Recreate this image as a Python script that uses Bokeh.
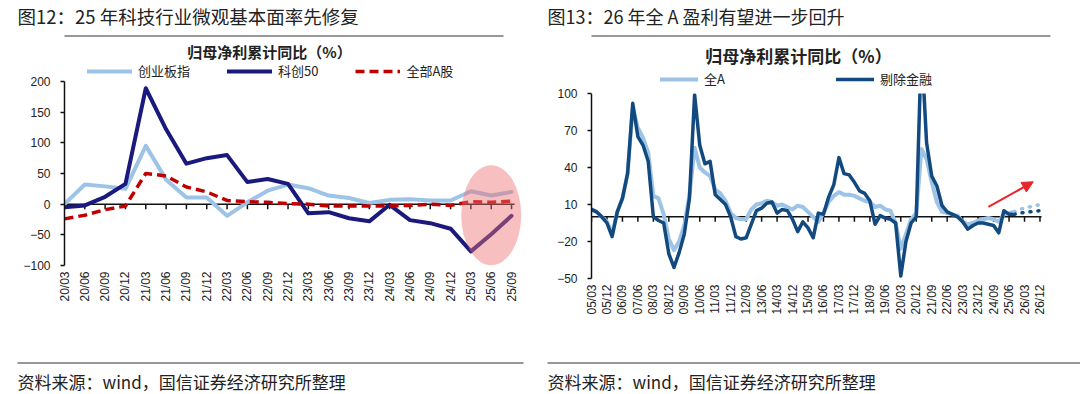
import math
from bokeh.plotting import figure
from bokeh.models import (Range1d, FixedTicker, Label, Legend, LegendItem,
                          BoxAnnotation, Arrow, NormalHead)
from bokeh.layouts import row, column
from bokeh.embed import file_html
from bokeh.resources import INLINE
from bokeh.core.validation import silence
from bokeh.core.validation.warnings import MISSING_RENDERERS

silence(MISSING_RENDERERS, True)

CJK = "Noto Sans CJK SC"
NUM = "Liberation Sans"

# ---------------- texts ----------------
LEFT_TITLE = "图12：25 年科技行业微观基本面率先修复"
RIGHT_TITLE = "图13：26 年全 A 盈利有望进一步回升"
CHART_SUBTITLE = "归母净利累计同比（%）"
SOURCE = "资料来源：wind，国信证券经济研究所整理"

# ---------------- left chart data ----------------
LEFT_QUARTERS = ["20/03", "20/06", "20/09", "20/12", "21/03", "21/06", "21/09", "21/12",
                 "22/03", "22/06", "22/09", "22/12", "23/03", "23/06", "23/09", "23/12",
                 "24/03", "24/06", "24/09", "24/12", "25/03", "25/06", "25/09"]
CYB = [0, 32, 29, 25, 95, 40, 11, 11, -19, 3, 22, 32, 26, 14, 10, 2, 7, 8, 6, 6, 21, 14, 20]
KC50 = [-5, -2, 12, 33, 189, 122, 66, 75, 80, 36, 41, 33, -15, -13, -23, -28, -1, -26, -31,
        -40, -77, -49, -19]
ALLA = [-24, -18, -9, -3, 50, 46, 28, 20, 6, 4, 3, 1, 0, -3, -3, -3, -3, -2, 0, -2, 4, 3, 5]
LEFT_NAMES = ["创业板指", "科创50", "全部A股"]
LEFT_YTICKS = [-100, -50, 0, 50, 100, 150, 200]

# highlight ellipse (data units)
HL_X, HL_Y, HL_W, HL_H = 21, -18, 2.95, 163

# ---------------- right chart data ----------------
RIGHT_TICK_LABELS = ["05/03", "05/12", "06/09", "07/06", "08/03", "08/12", "09/09", "10/06",
                     "11/03", "11/12", "12/09", "13/06", "14/03", "14/12", "15/09", "16/06",
                     "17/03", "17/12", "18/09", "19/06", "20/03", "20/12", "21/09", "22/06",
                     "23/03", "23/12", "24/09", "25/06", "26/03", "26/12"]
QA = [6, 4, 0, -4, -14, 4, 15, 35, 88, 72,
      64, 52, 17, 15, 2, -18, -27, -20, -7, 18,
      56, 40, 36, 33, 22, 19, 13, 3, -1, -2,
      -2, 6, 10, 11, 13, 12, 9, 10, 8, 6,
      9, 8, 4, 0, -4, 3, 12, 17, 20, 18,
      18, 17, 15, 13, 12, 8, 9, 6, 5, -5,
      -26, -14, -2, 3, 55, 47, 28, 12, 4, 3,
      2, 1, -4, -6, -5, -3, -2, -1, -2, -4,
      2, 3, 4]
QEXF = [6, 4, 0, -5, -16, 4, 15, 35, 92, 65,
        58, 45, 0, -3, -5, -30, -41, -29, -14, 15,
        99, 58, 43, 45, 18, 14, 10, 0, -16, -18,
        -17, -6, 5, 7, 11, 12, 3, 6, 5, -2,
        -12, -4, -9, -17, 3, 2, 16, 26, 48, 35,
        34, 28, 21, 19, 13, -6, 1, -1, -2, -5,
        -48, -20, -5, 0, 140, 60, 33, 25, 9, 4,
        2, 0, -4, -10, -7, -5, -5, -6, -7, -13,
        5, 2, 2]
FC_QA = [4, 6, 7, 8, 9, 10]          # 25/09 .. 26/12 outlook
FC_QEXF = [2, 3, 3.5, 4, 4.5, 5]
RIGHT_NAMES = ["全A", "剔除金融"]
RIGHT_YTICKS = [-50, -20, 10, 40, 70, 100]
ARROW_X0, ARROW_Y0, ARROW_X1, ARROW_Y1 = 77.0, 8, 85.7, 28.4

# ---------------- colours ----------------
C_LIGHT = "#9DC3E6"
C_NAVY = "#1A1A7E"
C_RED = "#C00000"
C_STEEL = "#124A80"
C_AXIS = "#111111"
C_TEXT = "#222222"
C_RULE = "#333333"

PANEL_W = 540
HEAD_H, CHART_H, FOOT_H = 31, 330, 33
RULE_OFFSET = 4        # header rule: px below the top of the chart canvas


def blank_fig(h):
    return figure(width=PANEL_W, height=h, x_range=Range1d(0, PANEL_W), y_range=Range1d(0, h),
                  x_axis_type=None, y_axis_type=None, toolbar_location=None,
                  output_backend="svg", min_border=0, outline_line_color=None, title=None,
                  frame_align=False)


def text_fig(h, text, tx, ty, size):
    f = blank_fig(h)
    f.add_layout(Label(x=tx, y=ty, text=text, text_font=CJK, text_font_size=size,
                       text_color=C_TEXT, text_baseline="middle", text_align="left"))
    return f


def add_rule(f, x0, x1, y0, y1):
    f.add_layout(BoxAnnotation(left=x0, right=x1, bottom=y0, top=y1,
                               fill_color=C_RULE, fill_alpha=1, line_color=None))
    return f


def style_axes(p, yticks, xticks, xlabels):
    ya = p.yaxis[0]
    ya.ticker = FixedTicker(ticks=yticks)
    ya.bounds = (yticks[0], yticks[-1])
    ya.axis_line_color = C_AXIS
    ya.axis_line_width = 1.5
    ya.major_tick_line_color = C_AXIS
    ya.major_tick_line_width = 1.5
    ya.major_tick_out = 4
    ya.major_tick_in = 0
    ya.minor_tick_line_color = None
    ya.major_label_text_font = NUM
    ya.major_label_text_font_size = "12px"
    ya.major_label_text_color = C_TEXT
    ya.major_label_standoff = 10
    xa = p.xaxis[0]
    xa.ticker = FixedTicker(ticks=xticks)
    xa.major_label_overrides = {t: lab for t, lab in zip(xticks, xlabels)}
    xa.axis_line_color = None
    xa.major_tick_line_color = None
    xa.major_tick_out = 0
    xa.major_tick_in = 0
    xa.minor_tick_line_color = None
    xa.major_label_orientation = math.pi / 2
    xa.major_label_standoff = 6
    xa.major_label_text_font = NUM
    xa.major_label_text_font_size = "12px"
    xa.major_label_text_color = C_TEXT
    p.grid.visible = False


# ================= LEFT =================
L_PXQ = 20.32          # px per quarter
L_PXU = 184 / 300      # px per percentage point
L_FL, L_FR, L_FT, L_FB = 64, 10, 0, 96
l_fw = PANEL_W - L_FL - L_FR
l_fh = CHART_H - L_FT - L_FB
l_top = LEFT_YTICKS[0] + l_fh / L_PXU
lx = list(range(len(LEFT_QUARTERS)))
lp = figure(width=PANEL_W, height=CHART_H, toolbar_location=None, output_backend="svg",
            x_range=Range1d(0, l_fw / L_PXQ),
            y_range=Range1d(LEFT_YTICKS[0], l_top),
            min_border_left=L_FL, min_border_right=L_FR, min_border_top=L_FT,
            min_border_bottom=L_FB, outline_line_color=None, title=None, frame_align=False)
style_axes(lp, LEFT_YTICKS, lx, LEFT_QUARTERS)
l_tick = 5 / L_PXU
lp.segment(x0=[lx[0]], y0=[0], x1=[lx[-1] + 0.15], y1=[0], line_color=C_AXIS, line_width=1.5)
lp.segment(x0=lx, x1=lx, y0=[0] * len(lx), y1=[-l_tick] * len(lx), line_color=C_AXIS,
           line_width=1.5)
r1 = lp.line(lx, CYB, line_color=C_LIGHT, line_width=4, line_join="round", line_cap="round")
r2 = lp.line(lx, KC50, line_color=C_NAVY, line_width=4, line_join="round", line_cap="round")
r3 = lp.line(lx, ALLA, line_color=C_RED, line_width=3.5, line_dash="9 5", line_join="round")
lp.ellipse(x=[HL_X], y=[HL_Y], width=[HL_W], height=[HL_H], fill_color="#EE7070",
           fill_alpha=0.45, line_color=None)
leg_l = Legend(items=[LegendItem(label=n, renderers=[r]) for n, r in zip(LEFT_NAMES, [r1, r2, r3])],
               orientation="horizontal", location=(23, 185), padding=0, margin=0, spacing=37,
               glyph_width=45, glyph_height=16, label_height=16, label_standoff=6,
               label_text_font=CJK, label_text_font_size="13px", label_text_color=C_TEXT,
               border_line_color=None, background_fill_alpha=0)
lp.add_layout(leg_l)
lp.add_layout(Label(x=205, y=214, x_units="screen", y_units="screen", text=CHART_SUBTITLE,
                    text_align="center", text_baseline="middle", text_font=CJK,
                    text_font_size="15px", text_font_style="bold", text_color=C_TEXT))
# header rule (drawn on this canvas, just under the title strip)
add_rule(lp, (17 - L_FL) / L_PXQ, (503 - L_FL) / L_PXQ,
         l_top - (RULE_OFFSET + 1) / L_PXU, l_top - RULE_OFFSET / L_PXU)

# ================= RIGHT =================
R_PXQ = 5.155
R_PXU = 185 / 150
R_FL, R_FR, R_FT, R_FB = 51, 30, 0, 83
r_fw = PANEL_W - R_FL - R_FR
r_fh = CHART_H - R_FT - R_FB
r_top = RIGHT_YTICKS[0] + r_fh / R_PXU
rx = list(range(len(QA)))
rxt = [3 * k for k in range(len(RIGHT_TICK_LABELS))]
rp = figure(width=PANEL_W, height=CHART_H, toolbar_location=None, output_backend="svg",
            x_range=Range1d(0, r_fw / R_PXQ),
            y_range=Range1d(RIGHT_YTICKS[0], r_top),
            min_border_left=R_FL, min_border_right=R_FR, min_border_top=R_FT,
            min_border_bottom=R_FB, outline_line_color=None, title=None, frame_align=False)
style_axes(rp, RIGHT_YTICKS, rxt, RIGHT_TICK_LABELS)
r_tick = 5 / R_PXU
rp.segment(x0=[0], y0=[0], x1=[rxt[-1] + 0.3], y1=[0], line_color=C_AXIS, line_width=1.5)
rp.segment(x0=rxt, x1=rxt, y0=[0] * len(rxt), y1=[-r_tick] * len(rxt), line_color=C_AXIS,
           line_width=1.5)
s1 = rp.line(rx, QA, line_color=C_LIGHT, line_width=4, line_join="round", line_cap="round")
s2 = rp.line(rx, QEXF, line_color=C_STEEL, line_width=3.5, line_join="round", line_cap="round")
fx = [rx[-1] + k for k in range(len(FC_QA))]
rp.line(fx, FC_QA, line_color=C_LIGHT, line_width=3.5, line_dash="1 7", line_cap="round")
rp.line(fx, FC_QEXF, line_color=C_STEEL, line_width=3.5, line_dash="1 7", line_cap="round")
# values above the top of the scale are cut off, as in the source chart
rp.add_layout(BoxAnnotation(bottom=RIGHT_YTICKS[-1], top=r_top + 20, fill_color="white",
                            fill_alpha=1.0, line_color=None, level="guide"))
rp.add_layout(Arrow(end=NormalHead(size=11, fill_color="#E8262A", line_color="#E8262A"),
                    x_start=ARROW_X0, y_start=ARROW_Y0, x_end=ARROW_X1, y_end=ARROW_Y1,
                    line_color="#E8262A", line_width=2))
leg_r = Legend(items=[LegendItem(label=n, renderers=[r]) for n, r in zip(RIGHT_NAMES, [s1, s2])],
               orientation="horizontal", location=(69, 190), padding=0, margin=0, spacing=111,
               glyph_width=38, glyph_height=16, label_height=16, label_standoff=6,
               label_text_font=CJK, label_text_font_size="13px", label_text_color=C_TEXT,
               border_line_color=None, background_fill_alpha=0)
rp.add_layout(leg_r)
rp.add_layout(Label(x=207, y=223, x_units="screen", y_units="screen", text=CHART_SUBTITLE,
                    text_align="center", text_baseline="middle", text_font=CJK,
                    text_font_size="17px", text_font_style="bold", text_color=C_TEXT))
add_rule(rp, (7 - R_FL) / R_PXQ, (PANEL_W - R_FL) / R_PXQ,
         r_top - (RULE_OFFSET + 1) / R_PXU, r_top - RULE_OFFSET / R_PXU)

# ================= headers / footers =================
head_l = text_fig(HEAD_H, LEFT_TITLE, 17, HEAD_H - 15, "18.5px")
head_r = text_fig(HEAD_H, RIGHT_TITLE, 7, HEAD_H - 15, "18px")
foot_l = add_rule(text_fig(FOOT_H, SOURCE, 17, 13, "17px"), 17, 523, FOOT_H - 2, FOOT_H - 1)
foot_r = add_rule(text_fig(FOOT_H, SOURCE, 7, 13, "17px"), 7, 540, FOOT_H - 2, FOOT_H - 1)

layout = row(column(head_l, lp, foot_l), column(head_r, rp, foot_r))

with open("out.html", "w") as fh:
    fh.write(file_html(layout, INLINE))
